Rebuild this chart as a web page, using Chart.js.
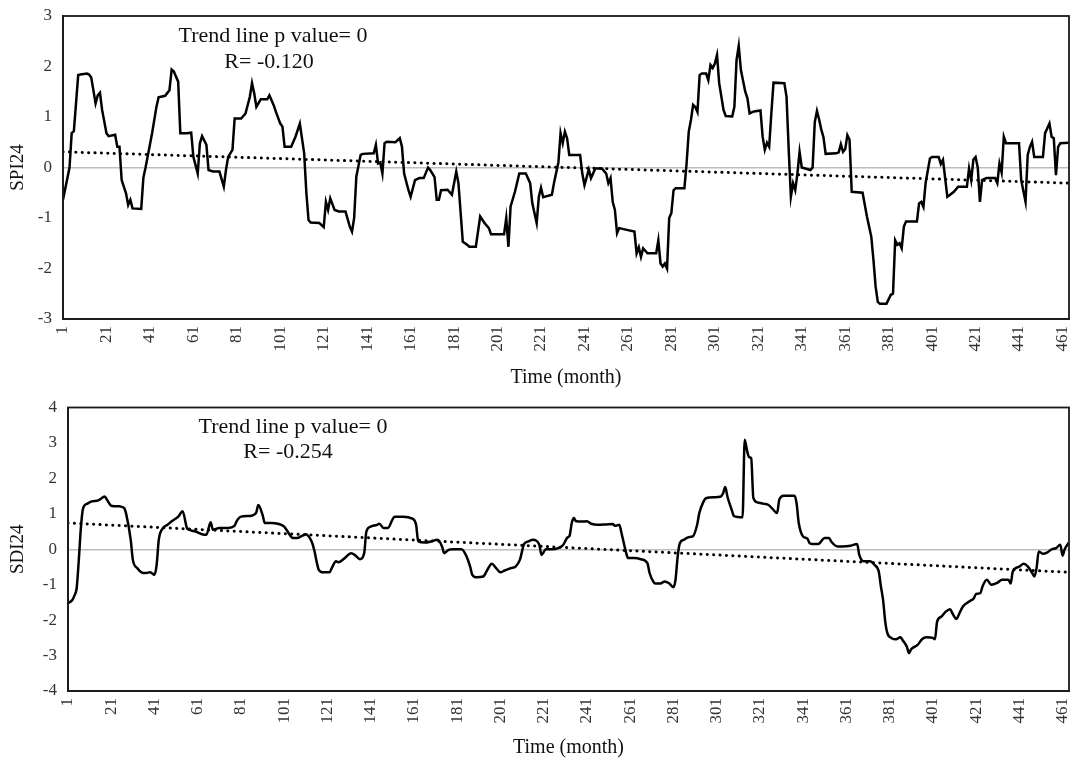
<!DOCTYPE html>
<html>
<head>
<meta charset="utf-8">
<script src="https://cdn.jsdelivr.net/npm/chart.js@4.4.0/dist/chart.umd.min.js"></script>
<style>
html,body{margin:0;padding:0;background:#fff;}
#w1{position:absolute;left:0;top:0;width:1070px;height:390px;}
#w2{position:absolute;left:0;top:390px;width:1070px;height:370px;}
</style>
</head>
<body>
<div id="w1"><canvas id="c1"></canvas></div>
<div id="w2"><canvas id="c2"></canvas></div>
<script>
// ---------- DATA ----------
const xTickLabels = [1,21,41,61,81,101,121,141,161,181,201,221,241,261,281,301,321,341,361,381,401,421,441,461];
const lastMonth = 464;
const spiTicks = [-3,-2,-1,0,1,2,3];
const sdiTicks = [-4,-3,-2,-1,0,1,2,3,4];

const spiMonths = [1,4,5,6,8,9,12,13,14,16,17,18,19,21,22,25,26,27,28,30,31,32,33,37,38,39,42,44,45,48,50,51,52,54,55,58,60,61,63,64,65,67,68,70,73,75,76,77,79,80,83,85,87,88,89,90,92,95,96,98,99,101,102,103,106,108,110,112,113,114,115,119,121,122,123,124,126,128,131,133,134,135,136,138,139,144,145,146,147,148,149,150,154,156,157,158,160,161,163,165,167,169,170,172,173,174,175,178,180,182,183,185,187,188,191,193,195,197,198,204,205,206,207,209,211,214,216,217,219,220,221,222,226,227,228,229,230,231,232,233,234,239,240,241,243,244,246,249,251,252,253,254,255,256,257,261,264,265,266,267,268,270,274,275,276,277,278,279,280,281,282,283,287,288,289,290,291,292,293,294,295,297,298,299,300,301,302,303,305,306,309,310,311,312,313,315,316,317,319,322,323,324,325,326,327,328,333,334,335,336,337,338,339,340,341,345,346,347,348,349,350,351,352,357,358,359,360,361,362,363,364,369,371,372,373,374,375,376,377,380,382,383,384,385,386,387,388,389,394,395,396,397,398,400,401,404,405,406,407,408,409,411,413,417,418,419,420,421,422,423,424,426,430,431,432,433,434,435,441,442,444,445,446,447,448,452,453,455,456,457,458,459,460,464];
const spiValues = [-0.64,0.0,0.68,0.72,1.83,1.84,1.86,1.84,1.78,1.27,1.43,1.48,1.14,0.68,0.62,0.65,0.41,0.41,-0.25,-0.51,-0.74,-0.64,-0.81,-0.82,-0.2,0.0,0.68,1.2,1.39,1.42,1.53,1.94,1.9,1.7,0.68,0.68,0.69,0.21,-0.12,0.48,0.62,0.45,-0.05,-0.08,-0.08,-0.38,-0.05,0.21,0.35,0.97,0.97,1.07,1.4,1.67,1.47,1.2,1.35,1.35,1.43,1.23,1.1,0.87,0.81,0.41,0.41,0.61,0.87,0.28,-0.5,-1.04,-1.09,-1.1,-1.18,-0.68,-0.84,-0.61,-0.84,-0.87,-0.87,-1.17,-1.27,-1.0,-0.18,0.25,0.27,0.28,0.45,0.08,0.1,-0.12,0.48,0.51,0.5,0.58,0.41,-0.12,-0.45,-0.58,-0.25,-0.21,-0.21,0.0,-0.05,-0.19,-0.64,-0.64,-0.45,-0.44,-0.54,-0.08,-0.31,-1.47,-1.53,-1.57,-1.57,-0.97,-1.1,-1.2,-1.32,-1.32,-1.0,-1.57,-0.77,-0.48,-0.12,-0.12,-0.31,-0.71,-1.1,-0.58,-0.4,-0.59,-0.54,-0.3,-0.1,0.1,0.68,0.48,0.71,0.58,0.25,0.25,-0.12,-0.35,-0.04,-0.21,-0.02,-0.02,-0.12,-0.31,-0.21,-0.68,-0.84,-1.3,-1.2,-1.24,-1.27,-1.7,-1.58,-1.77,-1.6,-1.7,-1.7,-1.44,-1.9,-1.96,-1.9,-2.0,-1.0,-0.9,-0.45,-0.41,-0.41,0.08,0.71,0.94,1.24,1.2,1.1,1.83,1.86,1.86,1.73,2.03,1.97,2.06,2.23,1.67,1.14,1.02,1.01,1.2,2.13,2.41,1.93,1.5,1.37,1.07,1.11,1.13,0.61,0.35,0.49,0.41,1.07,1.68,1.67,1.4,0.35,-0.58,-0.31,-0.45,-0.12,0.31,0.0,-0.05,0.0,0.9,1.12,0.95,0.75,0.6,0.27,0.28,0.3,0.46,0.31,0.36,0.64,0.55,-0.48,-0.5,-0.97,-1.17,-1.37,-1.83,-2.36,-2.66,-2.7,-2.7,-2.52,-2.5,-1.44,-1.53,-1.5,-1.6,-1.17,-1.07,-1.07,-0.71,-0.68,-0.78,-0.31,0.18,0.21,0.21,0.07,0.15,-0.21,-0.58,-0.55,-0.48,-0.38,-0.38,-0.02,-0.25,0.16,0.21,0.0,-0.68,-0.25,-0.21,-0.21,-0.31,0.08,-0.1,0.61,0.48,0.48,-0.25,-0.68,0.25,0.41,0.51,0.21,0.21,0.68,0.87,0.61,0.58,-0.15,0.41,0.48,0.49];

const sdiMonths = [1,3,4,5,6,7,8,10,12,15,17,18,19,21,25,27,28,30,31,33,35,37,39,41,42,43,45,47,49,52,54,56,57,60,64,65,67,68,71,75,78,79,81,85,88,89,91,92,95,98,101,103,105,107,109,111,113,114,115,116,117,119,122,123,125,126,129,132,134,136,138,139,141,144,145,147,149,151,152,156,160,162,163,166,169,172,174,175,177,179,183,185,187,188,190,193,195,197,199,201,203,206,208,210,212,214,216,219,220,222,225,228,230,232,233,234,235,236,239,241,243,246,250,253,254,256,257,259,260,263,266,269,270,272,273,275,277,279,281,282,283,284,286,288,290,292,293,295,296,300,303,304,305,306,308,309,311,313,314,315,316,317,318,320,323,325,327,329,330,332,337,338,339,341,343,344,345,348,351,353,354,357,359,363,366,367,369,372,374,376,377,378,379,380,382,384,386,387,389,390,391,394,396,398,401,402,403,405,407,409,410,412,413,415,418,420,421,423,424,426,428,431,433,436,437,438,441,443,445,447,448,449,450,452,454,456,458,460,461,462,464];
const sdiValues = [-1.52,-1.43,-1.3,-1.1,-0.3,0.64,1.16,1.29,1.35,1.38,1.46,1.49,1.4,1.23,1.21,1.16,0.97,0.27,-0.3,-0.53,-0.65,-0.67,-0.65,-0.72,-0.44,0.27,0.6,0.69,0.79,0.92,1.07,0.6,0.55,0.5,0.41,0.41,0.76,0.55,0.6,0.6,0.66,0.79,0.92,0.94,1.02,1.25,0.97,0.74,0.74,0.72,0.64,0.46,0.32,0.32,0.37,0.42,0.3,0.17,-0.05,-0.35,-0.58,-0.65,-0.65,-0.53,-0.34,-0.37,-0.25,-0.11,-0.18,-0.28,-0.11,0.5,0.64,0.69,0.72,0.6,0.6,0.83,0.92,0.92,0.87,0.69,0.22,0.19,0.22,0.27,0.08,-0.11,-0.02,0.0,0.0,-0.16,-0.49,-0.72,-0.79,-0.77,-0.58,-0.41,-0.53,-0.65,-0.6,-0.53,-0.49,-0.3,0.15,0.22,0.27,0.13,-0.16,0.0,0.0,0.04,0.12,0.33,0.38,0.74,0.88,0.79,0.78,0.79,0.72,0.69,0.7,0.71,0.66,0.69,0.46,-0.06,-0.25,-0.25,-0.28,-0.39,-0.67,-0.94,-0.97,-0.97,-0.91,-0.96,-1.07,-0.86,-0.2,0.17,0.27,0.34,0.36,0.69,1.02,1.35,1.44,1.47,1.49,1.58,1.76,1.49,1.11,0.94,0.91,0.9,3.09,2.81,2.6,2.57,1.45,1.32,1.28,1.25,1.13,1.02,1.4,1.51,1.51,1.3,0.74,0.36,0.3,0.17,0.15,0.15,0.32,0.32,0.22,0.08,0.08,0.1,0.15,-0.16,-0.34,-0.34,-0.44,-0.63,-1.05,-1.43,-2.04,-2.37,-2.51,-2.54,-2.48,-2.56,-2.75,-2.93,-2.82,-2.7,-2.54,-2.48,-2.5,-2.54,-2.04,-1.9,-1.76,-1.69,-1.8,-1.97,-1.85,-1.61,-1.47,-1.38,-1.26,-1.24,-1.05,-0.86,-1.0,-0.94,-0.86,-0.86,-0.97,-0.63,-0.49,-0.41,-0.49,-0.67,-0.77,-0.53,-0.06,-0.13,-0.09,0.0,0.03,0.13,-0.18,0.0,0.19];

const trendMonths = [1, 464];
const spiTrend = [0.31, -0.31];
const sdiTrend = [0.74, -0.65];

const spiNotes = ["Trend line p value= 0", "R= -0.120"];
const sdiNotes = ["Trend line p value= 0", "R= -0.254"];

// ---------- HELPERS ----------
const FONT = "'Liberation Serif', 'Times New Roman', serif";
const pairs = (xs, ys) => xs.map((x, i) => ({x: x, y: ys[i]}));

const boxPlugin = {
  id: 'box',
  afterDraw(chart) {
    const a = chart.chartArea, ctx = chart.ctx;
    ctx.save();
    ctx.strokeStyle = '#1a1a1a';
    ctx.lineWidth = 1.8;
    ctx.strokeRect(a.left, a.top, a.right - a.left, a.bottom - a.top);
    ctx.restore();
  }
};

const notesPlugin = {
  id: 'notes',
  afterDraw(chart, args, opts) {
    const ctx = chart.ctx;
    ctx.save();
    ctx.fillStyle = '#111';
    ctx.font = opts.size + 'px ' + FONT;
    ctx.textAlign = 'center';
    ctx.textBaseline = 'middle';
    opts.lines.forEach((t, i) => ctx.fillText(t, opts.pos[i][0], opts.pos[i][1]));
    ctx.restore();
  }
};

function zeroPad(s) {
  s.paddingLeft = 0; s.paddingRight = 0; s.paddingTop = 0; s.paddingBottom = 0;
}

function makeChart(id, cfg) {
  return new Chart(document.getElementById(id), {
    type: 'line',
    data: {
      datasets: [
        {
          data: pairs(cfg.months, cfg.values),
          borderColor: '#000', borderWidth: 2.5, pointRadius: 0,
          tension: cfg.tension, cubicInterpolationMode: cfg.tension ? 'monotone' : 'default',
          fill: false, order: 1
        },
        {
          data: pairs(trendMonths, cfg.trend),
          borderColor: '#000', borderWidth: 3, pointRadius: 0,
          borderDash: [0.1, 6.3], borderCapStyle: 'round',
          fill: false, order: 0
        }
      ]
    },
    options: {
      responsive: true, maintainAspectRatio: false, animation: false,
      events: [],
      layout: { padding: { top: cfg.padTop, right: 1, left: 0, bottom: 0 } },
      plugins: {
        legend: { display: false }, tooltip: { enabled: false },
        notes: { lines: cfg.notes, pos: cfg.notePos, size: 22 }
      },
      scales: {
        x: {
          type: 'linear', min: 1, max: lastMonth,
          afterBuildTicks: s => { s.ticks = xTickLabels.map(v => ({value: v})); },
          afterFit: s => { s.height = cfg.xHeight; zeroPad(s); },
          ticks: {
            autoSkip: false, maxRotation: 90, minRotation: 90, padding: 7,
            color: '#333', font: { family: FONT, size: 17 },
            callback: v => String(v)
          },
          grid: { display: false, drawTicks: false },
          border: { display: true, color: '#1a1a1a', width: 1.8 },
          title: {
            display: true, text: 'Time (month)', color: '#111',
            font: { family: FONT, size: 20 }, padding: { top: 0, bottom: 0 }
          }
        },
        y: {
          min: cfg.ticks[0], max: cfg.ticks[cfg.ticks.length - 1],
          afterBuildTicks: s => { s.ticks = cfg.ticks.map(v => ({value: v})); },
          afterFit: s => { s.width = cfg.yWidth; zeroPad(s); },
          ticks: {
            padding: 11, color: '#333', font: { family: FONT, size: 17 },
            callback: v => String(v)
          },
          grid: {
            drawTicks: false,
            color: c => (c.tick && c.tick.value === 0) ? '#bdbdbd' : 'rgba(0,0,0,0)',
            lineWidth: 1.5
          },
          border: { display: true, color: '#1a1a1a', width: 1.8 },
          title: {
            display: true, text: cfg.yTitle, color: '#111',
            font: { family: FONT, size: 19 }, padding: { top: 7, bottom: 0 }
          }
        }
      }
    },
    plugins: [boxPlugin, notesPlugin]
  });
}

makeChart('c1', {
  months: spiMonths, values: spiValues, trend: spiTrend, ticks: spiTicks,
  yTitle: 'SPI24', notes: spiNotes, notePos: [[273, 36], [269, 62]],
  padTop: 16, xHeight: 71, yWidth: 63, tension: 0
});
makeChart('c2', {
  months: sdiMonths, values: sdiValues, trend: sdiTrend, ticks: sdiTicks,
  yTitle: 'SDI24', notes: sdiNotes, notePos: [[293, 37], [288, 62]],
  padTop: 17.5, xHeight: 69, yWidth: 68, tension: 0.3
});
</script>
</body>
</html>
